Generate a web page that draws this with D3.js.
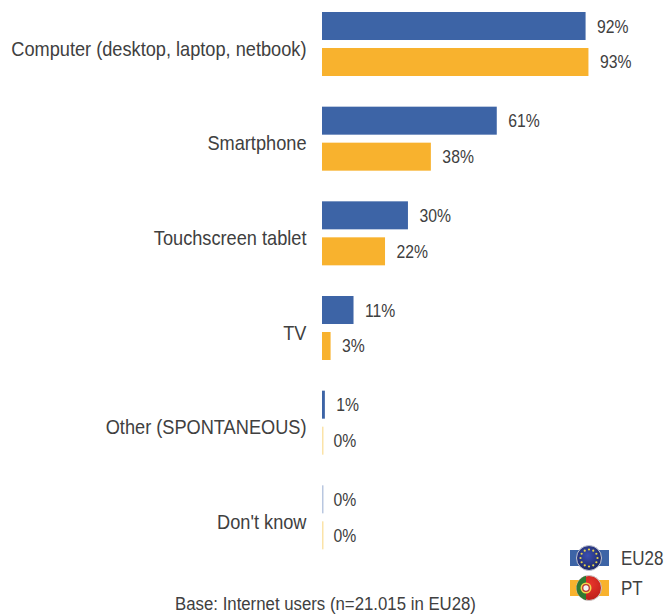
<!DOCTYPE html>
<html><head><meta charset="utf-8">
<script src="https://cdn.jsdelivr.net/npm/d3@7"></script>
<style>html,body{margin:0;padding:0;background:#fff}svg{display:block}text{font-family:"Liberation Sans",Arial,sans-serif;fill:#404040}</style>
</head><body><svg id="c" width="665" height="615"></svg>
<script>
const categories=["Computer (desktop, laptop, netbook)","Smartphone","Touchscreen tablet","TV","Other (SPONTANEOUS)","Don't know"];
const seriesNames=["EU28","PT"];
const eu28=[92,61,30,11,1,0];
const pt=[93,38,22,3,0,0];
const colors=["#3d64a6","#f8b22e"];
const zeroColors=["#b9c7e0","#fbe3a8"];
const baseNote="Base: Internet users (n=21.015 in EU28)";
const svg=d3.select("#c");
const x=d3.scaleLinear().domain([0,100]).range([322,608.5]);
const y=d3.scaleBand().domain(categories).range([3,571]);
const inner=d3.scaleBand().domain(seriesNames).range([9,73]).paddingInner(0.222);
function label(px,py,anchor,size,sx,txt){
  return svg.append("text").attr("transform",`translate(${px},${py}) scale(${sx},1)`).attr("text-anchor",anchor).attr("font-size",size).text(txt);
}
[eu28,pt].forEach((vals,s)=>{
  categories.forEach((c,i)=>{
    const v=vals[i],yy=y(c)+inner(seriesNames[s]);
    svg.append("rect").attr("x",x(0)).attr("y",yy).attr("width",v===0?1.5:x(v)-x(0)).attr("height",inner.bandwidth())
      .attr("fill",v===0?zeroColors[s]:colors[s]);
    label(x(v)+11.5,yy+inner.bandwidth()/2+6.5,"start",18,0.875,v+"%");
  });
});
categories.forEach(c=>{
  label(306.5,y(c)+inner(seriesNames[0])+inner.bandwidth()+15.5,"end",20,0.91,c);
});
// legend
const flagCx=589;
const ly=d3.scaleBand().domain(seriesNames).range([543,603]);
const defs=svg.append("defs");
const g1=defs.append("radialGradient").attr("id","gEU").attr("cx","0.45").attr("cy","0.4").attr("r","0.65");
g1.append("stop").attr("offset","0").attr("stop-color","#3c4fb0");g1.append("stop").attr("offset","1").attr("stop-color","#1a2560");
const g2=defs.append("radialGradient").attr("id","gPT").attr("cx","0.55").attr("cy","0.35").attr("r","0.7");
g2.append("stop").attr("offset","0").attr("stop-color","#e8352b");g2.append("stop").attr("offset","1").attr("stop-color","#b81c18");
seriesNames.forEach((n,s)=>{
  const cy=ly(n)+ly.bandwidth()/2;
  svg.append("rect").attr("x",570).attr("y",cy-8).attr("width",39).attr("height",16).attr("fill",colors[s]);
  if(s===0){
    svg.append("circle").attr("cx",flagCx).attr("cy",cy).attr("r",12.5).attr("fill","url(#gEU)").attr("stroke","#c4c7d2").attr("stroke-width",1);
    d3.range(12).forEach(k=>{const a=k/12*2*Math.PI;
      svg.append("circle").attr("cx",flagCx+8.5*Math.cos(a)).attr("cy",cy+8.5*Math.sin(a)).attr("r",1.1).attr("fill","#e8d44a");});
  } else {
    svg.append("circle").attr("cx",flagCx).attr("cy",cy).attr("r",12.5).attr("fill","url(#gPT)").attr("stroke","#c8c8c8").attr("stroke-width",1);
    defs.append("clipPath").attr("id","ptClip").append("rect").attr("x",flagCx-14).attr("y",cy-14).attr("width",11).attr("height",28);
    svg.append("circle").attr("cx",flagCx).attr("cy",cy).attr("r",12.5).attr("fill","#2f7a32").attr("clip-path","url(#ptClip)");
    svg.append("circle").attr("cx",flagCx-3).attr("cy",cy).attr("r",5.5).attr("fill","#f2d64b");
    svg.append("circle").attr("cx",flagCx-3).attr("cy",cy).attr("r",3.3).attr("fill","#f4f4f4").attr("stroke","#b33").attr("stroke-width",1.3);
  }
  label(621,cy+7,"start",20,0.85,n);
});
label(325.5,610,"middle",18.5,0.908,baseNote);
</script></body></html>
